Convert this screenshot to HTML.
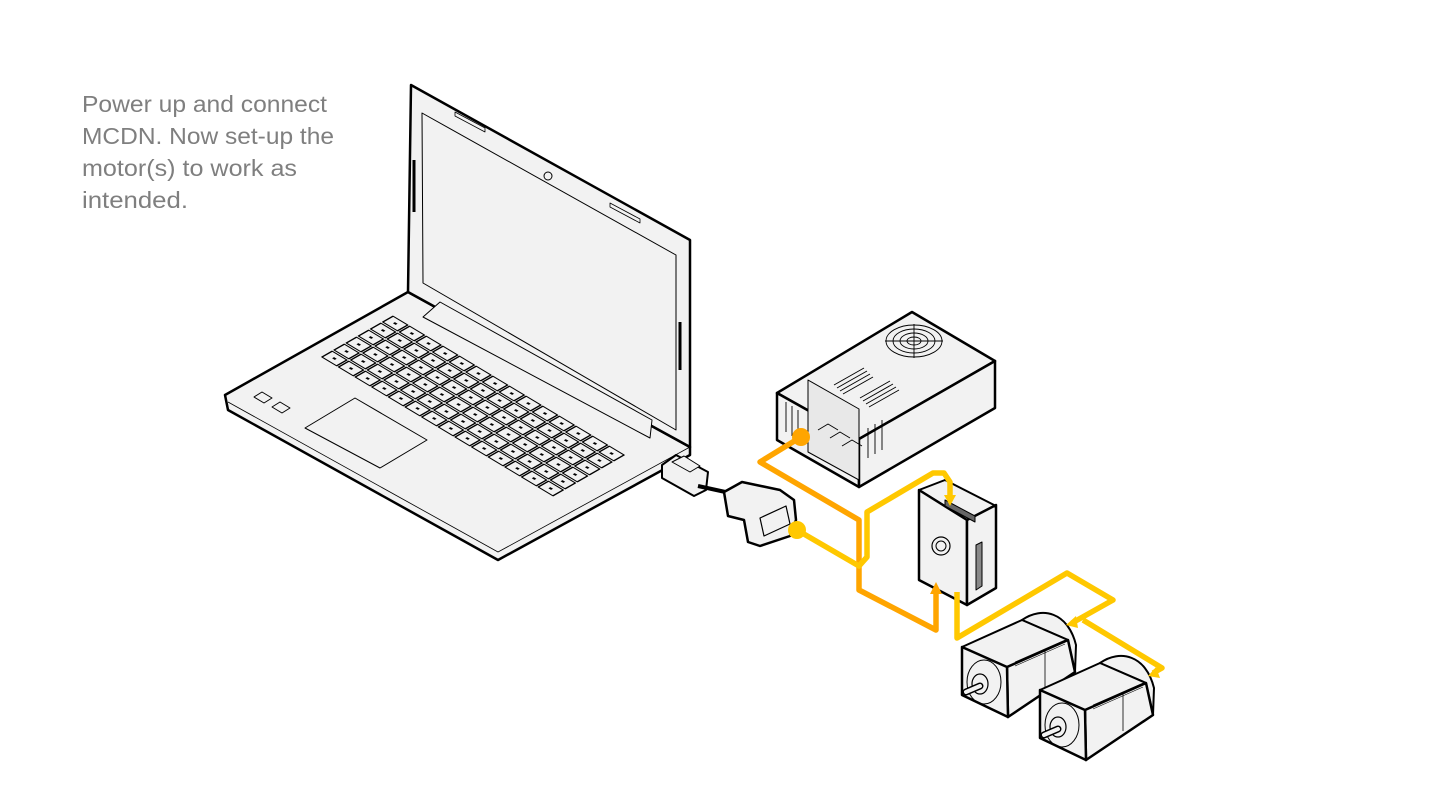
<!DOCTYPE html>
<html><head><meta charset="utf-8"><style>
html,body{margin:0;padding:0;background:#fff;}
svg{display:block}
.t{font-family:"Liberation Sans",sans-serif;font-size:23.5px;fill:#7f7f7f}
</style></head><body>
<svg id="s" width="1440" height="810" viewBox="0 0 1440 810" xmlns="http://www.w3.org/2000/svg">
<text class="t" x="82" y="112" textLength="245" lengthAdjust="spacingAndGlyphs">Power up and connect</text>
<text class="t" x="82" y="144" textLength="252" lengthAdjust="spacingAndGlyphs">MCDN. Now set-up the</text>
<text class="t" x="82" y="176" textLength="215" lengthAdjust="spacingAndGlyphs">motor(s) to work as</text>
<text class="t" x="82" y="208" textLength="106" lengthAdjust="spacingAndGlyphs">intended.</text>

<g stroke="#000" stroke-linejoin="round" fill="#f2f2f2">
<!-- laptop base -->
<polygon points="408,292 225,395 228,410 498,560 690,455 690,447" stroke-width="2.5"/>
<polyline points="228,402 498,552 690,447" fill="none" stroke-width="0.8"/>
<!-- lid -->
<polygon points="411,85 690,240 690,447 408,292" stroke-width="2.5"/>
<polygon points="422,113 676,255 676,430 423,283" stroke-width="1"/>
<line x1="414" y1="160" x2="414" y2="212" stroke-width="3"/>
<line x1="680" y1="322" x2="680" y2="370" stroke-width="3"/>
<circle cx="548" cy="176" r="4" fill="none" stroke-width="1"/>
<polygon points="455,112 485,128 485,132 455,116" stroke-width="0.8"/>
<polygon points="610,203 640,219 640,223 610,207" stroke-width="0.8"/>
<!-- hinge -->
<polygon points="423,317 440,302 652,420 650,438" stroke-width="1"/>
<!-- touchpad -->
<polygon points="305,428 355,398 427,440 380,468" stroke-width="1"/>
<polygon points="254,397 262,392 272,398 264,403" stroke-width="1"/>
<polygon points="272,407 280,402 290,408 282,413" stroke-width="1"/>
<g id="keys" transform="matrix(16.64,10,12.17,-7,320,357)"></g>
<!-- usb plug -->
<polygon points="662,465 676,455 708,472 706,490 694,496 662,478" stroke-width="2"/>
<polygon points="672,462 684,456 700,466 690,472" stroke-width="1"/>
<line x1="698" y1="486" x2="730" y2="493" stroke-width="4"/>
<!-- serial adapter -->
<path d="M724,492 L742,482 L780,490 L794,500 L796,520 L790,536 L760,546 L748,542 L744,520 L728,516 Z" stroke-width="2.5"/>
<polygon points="760,518 786,506 790,524 764,536" stroke-width="1.2"/>

<!-- PSU -->
<polygon points="777,393 912,312 995,361 859,439" stroke-width="2.5"/>
<polygon points="777,393 859,439 859,487 777,440" stroke-width="2.5"/>
<polygon points="859,439 995,361 995,408 859,487" stroke-width="2.5"/>
<polygon points="808,380 859,409 859,480 808,452" fill="#e8e8e8" stroke-width="1"/>
<g stroke-width="0.9" fill="none">
<ellipse cx="914" cy="341" rx="28" ry="16"/><ellipse cx="914" cy="341" rx="21" ry="12"/><ellipse cx="914" cy="341" rx="14" ry="8"/><ellipse cx="914" cy="341" rx="7" ry="4"/>
<line x1="885" y1="341" x2="943" y2="341"/><line x1="914" y1="324" x2="914" y2="358"/>
<path d="M834,385 l30,-17 M837,388 l30,-17 M840,391 l30,-17 M843,394 l30,-17 M860,398 l30,-17 M863,401 l30,-17 M866,404 l30,-17 M869,407 l30,-17"/>
<path d="M786,402 v30 M792,406 v30 M798,410 v30 M868,458 v-30 M875,454 v-30 M882,450 v-30"/>
<path d="M818,430 l10,-6 l10,6 M830,438 l10,-6 l10,6 M842,446 l10,-6 l10,6"/>
</g>

<!-- driver -->
<polygon points="919,490 945,480 996,506 967,520" stroke-width="2"/>
<polygon points="919,490 967,520 967,605 919,580" stroke-width="2.5"/>
<polygon points="967,520 996,505 996,588 967,605" stroke-width="2.5"/>
<polygon points="945,500 975,516 975,522 945,506" stroke-width="1" fill="#666"/>
<polygon points="976,545 982,542 982,586 976,590" stroke-width="1" fill="#888"/>
<circle cx="941" cy="546" r="9" stroke-width="1.2"/><circle cx="941" cy="546" r="5" stroke-width="1"/>

<!-- motors -->
<g id="m1">
<path d="M1022,620 C1042,606 1068,612 1076,645 L1075,672 L1068,640 Z" stroke-width="2"/>
<polygon points="962,647 1022,620 1068,640 1007,667" stroke-width="2"/>
<polygon points="1007,667 1068,640 1075,672 1008,717" stroke-width="2.5"/>
<polygon points="962,647 1007,667 1008,717 962,695" stroke-width="2.5"/>
<ellipse cx="984" cy="682" rx="17" ry="22" fill="none" stroke-width="1"/>
<ellipse cx="980" cy="684" rx="8" ry="10" stroke-width="1.2"/>
<path d="M980,686 L966,692" stroke-width="7" stroke-linecap="round"/>
<path d="M980,686 L966,692" stroke="#f2f2f2" stroke-width="4" stroke-linecap="round"/>
<line x1="1045" y1="650" x2="1045" y2="688" stroke-width="0.8"/>
<path d="M1015,662 L1065,640 M1015,666 L1065,644" fill="none" stroke-width="0.6"/>
</g>
<use href="#m1" transform="translate(78,43)"/>
</g>

<!-- wires -->
<g fill="none" stroke-linejoin="round" stroke-width="5.5">
<polyline points="801,437 760,462 859,520 859,590 936,630 936,592" stroke="#FFA500"/>
<polyline points="797,530 859,566 867,557 867,512 933,473 944,473 950,482 950,496" stroke="#FFC800"/>
<polyline points="957,592 957,638 1067,573 1113,600 1072,623" stroke="#FFC800"/>
<polyline points="1083,620 1162,668 1153,673" stroke="#FFC800"/>
</g>
<g>
<circle cx="801" cy="437" r="9" fill="#FFA500"/>
<circle cx="797" cy="530" r="9" fill="#FFC800"/>
<polygon points="930,594 936,582 942,594" fill="#FFA500"/>
<polygon points="944,495 950,506 956,495" fill="#FFC800"/>
<polygon points="1076,616 1066,625 1078,628" fill="#FFC800"/>
<polygon points="1156,667 1148,676 1160,678" fill="#FFC800"/>
</g>
</svg>
<script>
var g=document.getElementById('keys'),h='';
for(var v=0;v<6;v++)for(var u=0;u<14;u++){
h+='<rect x="'+(u+0.06)+'" y="'+(v+0.08)+'" width="0.88" height="0.84" fill="#f2f2f2" stroke="#000" stroke-width="0.08"/>';
h+='<rect x="'+(u+0.42)+'" y="'+(v+0.42)+'" width="0.16" height="0.16" fill="#000" stroke="none"/>';}
g.innerHTML=h;
</script>
</body></html>
